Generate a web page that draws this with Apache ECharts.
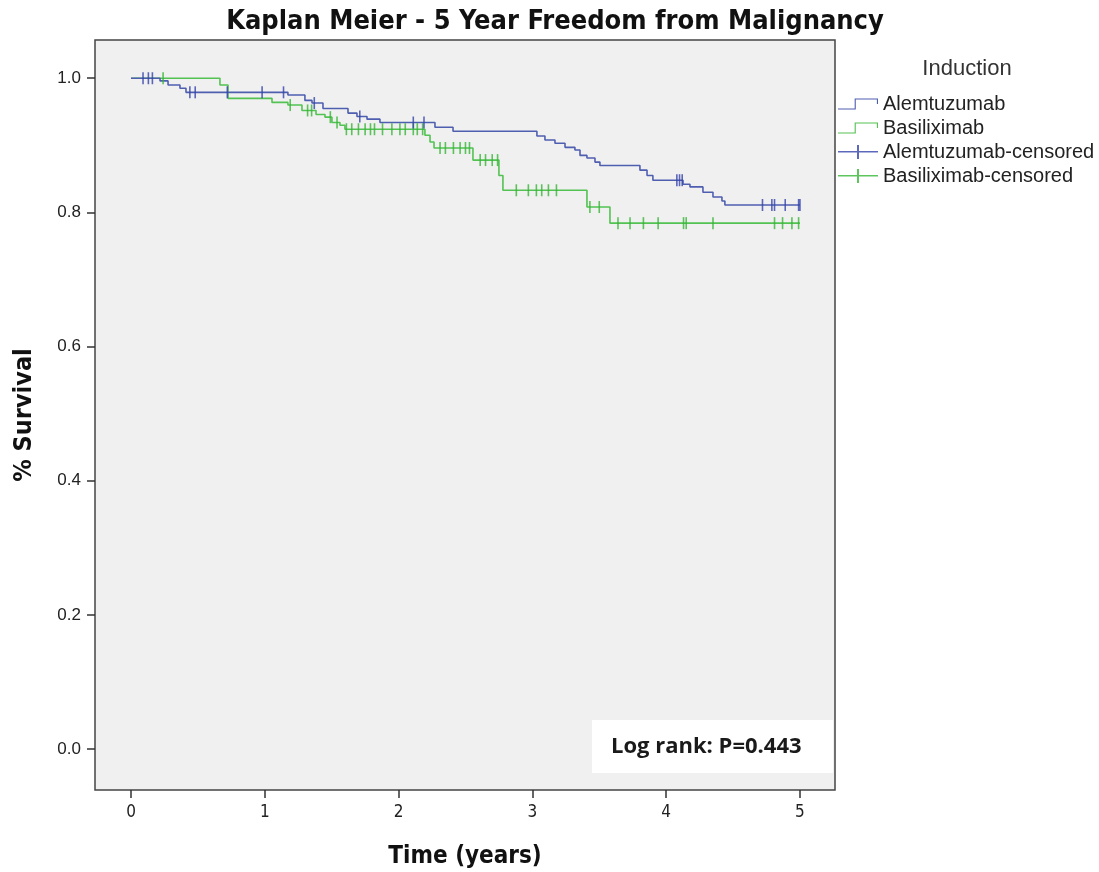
<!DOCTYPE html>
<html>
<head>
<meta charset="utf-8">
<script src="https://cdn.jsdelivr.net/npm/echarts@6/dist/echarts.min.js"></script>
<style>
  html, body { margin: 0; padding: 0; background: #fff; }
  #km { width: 1099px; height: 872px; }
</style>
</head>
<body>
<div id="km"></div>
<script>
// step points: time (years) where survival changes, and the new value
var alemTimes = [0, 0.217, 0.277, 0.366, 0.411, 1.173, 1.300, 1.353, 1.435, 1.622, 1.689, 1.764, 1.861, 2.272, 2.407, 3.034, 3.094, 3.169, 3.244, 3.318, 3.356, 3.408, 3.468, 3.505, 3.804, 3.857, 3.901, 4.126, 4.178, 4.275, 4.350, 4.417, 4.439, 5.0];
var alemSurv = [1.0, 0.996, 0.990, 0.985, 0.979, 0.975, 0.967, 0.963, 0.955, 0.948, 0.943, 0.939, 0.934, 0.927, 0.921, 0.914, 0.908, 0.903, 0.897, 0.893, 0.885, 0.881, 0.875, 0.870, 0.863, 0.855, 0.848, 0.842, 0.838, 0.830, 0.823, 0.817, 0.811, 0.811];
var basiTimes = [0, 0.665, 0.725, 1.054, 1.173, 1.278, 1.383, 1.450, 1.502, 1.562, 1.599, 2.197, 2.235, 2.265, 2.556, 2.750, 2.780, 3.408, 3.580, 5.0];
var basiSurv = [1.0, 0.990, 0.970, 0.964, 0.960, 0.952, 0.946, 0.942, 0.934, 0.930, 0.924, 0.915, 0.905, 0.896, 0.878, 0.855, 0.833, 0.808, 0.784, 0.784];
// censored times
var alemCensor = [0.09, 0.13, 0.16, 0.44, 0.48, 0.72, 0.98, 1.14, 1.37, 1.71, 2.11, 2.19, 4.08, 4.10, 4.12, 4.72, 4.79, 4.81, 4.89, 4.99, 5.0];
var basiCensor = [0.24, 1.19, 1.32, 1.35, 1.49, 1.54, 1.61, 1.65, 1.70, 1.75, 1.79, 1.82, 1.88, 1.95, 2.01, 2.05, 2.11, 2.14, 2.18, 2.31, 2.35, 2.41, 2.46, 2.50, 2.53, 2.61, 2.65, 2.70, 2.74, 2.88, 2.97, 3.03, 3.07, 3.12, 3.18, 3.43, 3.50, 3.64, 3.73, 3.83, 3.94, 4.13, 4.15, 4.35, 4.81, 4.87, 4.94, 4.99];
var xTicks = [0, 1, 2, 3, 4, 5];
var yTicks = [0, 0.2, 0.4, 0.6, 0.8, 1.0];

var narrow = '"Liberation Sans Narrow", "DejaVu Sans Condensed", Arial, sans-serif';
var plain = '"Liberation Sans", Arial, sans-serif';
var blue = '#4f5fb0';
var green = '#52c252';

function pairs(times, surv) {
  return times.map(function (t, i) { return [t, surv[i]]; });
}
// survival value at a censored time
function atTime(times, surv, t) {
  var v = surv[0];
  for (var i = 0; i < times.length; i++) {
    if (times[i] <= t) v = surv[i];
  }
  return v;
}
function censorPts(list, times, surv) {
  return list.map(function (t) { return [t, atTime(times, surv, t)]; });
}

var stepIcon = 'path://M0,10 L15,10 L15,1 L36,1 L36,6 L35,6 L35,2 L16,2 L16,11 L0,11 Z';
var crossIcon = 'path://M0,6 L19,6 L19,0 L21,0 L21,6 L40,6 L40,7.5 L21,7.5 L21,14 L19,14 L19,7.5 L0,7.5 Z';

var myChart = echarts.init(document.getElementById('km'));
var option = {
  animation: false,
  title: [
    {
      text: 'Kaplan Meier - 5 Year Freedom from Malignancy',
      left: 550,
      textAlign: 'center',
      top: 3,
      textStyle: { fontFamily: narrow, fontSize: 27, fontWeight: 'bold', color: '#111' }
    },
    {
      text: 'Induction',
      left: 962,
      textAlign: 'center',
      top: 53,
      textStyle: { fontFamily: plain, fontSize: 22, fontWeight: 'normal', color: '#333' }
    }
  ],
  legend: {
    orient: 'vertical',
    left: 833,
    top: 89,
    itemWidth: 40,
    itemHeight: 14,
    itemGap: 4,
    textStyle: { fontFamily: plain, fontSize: 20, color: '#222', lineHeight: 19 },
    data: [
      { name: 'Alemtuzumab', icon: stepIcon, itemStyle: { color: blue } },
      { name: 'Basiliximab', icon: stepIcon, itemStyle: { color: green } },
      { name: 'Alemtuzumab-censored', icon: crossIcon },
      { name: 'Basiliximab-censored', icon: crossIcon }
    ]
  },
  grid: {
    show: true,
    left: 95,
    right: 264,
    top: 40,
    bottom: 82,
    outerBoundsMode: 'none',
    backgroundColor: '#f0f0f0',
    borderColor: '#444',
    borderWidth: 1.5
  },
  xAxis: {
    type: 'value',
    min: -0.269,
    max: 5.262,
    name: 'Time (years)',
    nameLocation: 'middle',
    nameGap: 55,
    nameTextStyle: { fontFamily: narrow, fontSize: 24, fontWeight: 'bold', color: '#111' },
    axisLine: { show: false, onZero: false },
    splitLine: { show: false },
    axisTick: { show: true, customValues: xTicks, length: 8, lineStyle: { color: '#333', width: 1.5 } },
    axisLabel: { customValues: xTicks, margin: 14, fontFamily: narrow, fontSize: 17, color: '#222' }
  },
  yAxis: {
    type: 'value',
    min: -0.061,
    max: 1.057,
    name: '% Survival',
    nameLocation: 'middle',
    nameGap: 58,
    nameTextStyle: { fontFamily: narrow, fontSize: 25, fontWeight: 'bold', color: '#111' },
    axisLine: { show: false, onZero: false },
    splitLine: { show: false },
    axisTick: { show: true, customValues: yTicks, length: 8, lineStyle: { color: '#333', width: 1.5 } },
    axisLabel: {
      customValues: yTicks,
      margin: 14,
      fontFamily: plain,
      fontSize: 17,
      color: '#222',
      formatter: function (v) { return v.toFixed(1); }
    }
  },
  graphic: [
    {
      type: 'rect',
      z: 10,
      shape: { x: 592, y: 720, width: 241, height: 53 },
      style: { fill: '#ffffff' }
    },
    {
      type: 'text',
      z: 11,
      x: 611,
      y: 747,
      style: {
        text: 'Log rank: P=0.443',
        fontFamily: '"Open Sans", Lato, sans-serif',
        fontSize: 22,
        fontWeight: 'bold',
        fill: '#1a1a1a',
        verticalAlign: 'middle'
      }
    }
  ],
  series: [
    {
      name: 'Alemtuzumab',
      type: 'line',
      step: 'end',
      showSymbol: false,
      color: blue,
      itemStyle: { color: blue },
      lineStyle: { width: 1.6, color: blue },
      data: pairs(alemTimes, alemSurv),
      z: 3
    },
    {
      name: 'Basiliximab',
      type: 'line',
      step: 'end',
      showSymbol: false,
      color: green,
      itemStyle: { color: green },
      lineStyle: { width: 1.6, color: green },
      data: pairs(basiTimes, basiSurv),
      z: 2
    },
    {
      name: 'Alemtuzumab-censored',
      type: 'scatter',
      symbol: 'rect',
      symbolSize: [1.6, 12],
      color: '#3344aa',
      data: censorPts(alemCensor, alemTimes, alemSurv),
      z: 5
    },
    {
      name: 'Basiliximab-censored',
      type: 'scatter',
      symbol: 'rect',
      symbolSize: [1.6, 12],
      color: '#36b536',
      data: censorPts(basiCensor, basiTimes, basiSurv),
      z: 4
    }
  ]
};
myChart.setOption(option);
</script>
</body>
</html>
